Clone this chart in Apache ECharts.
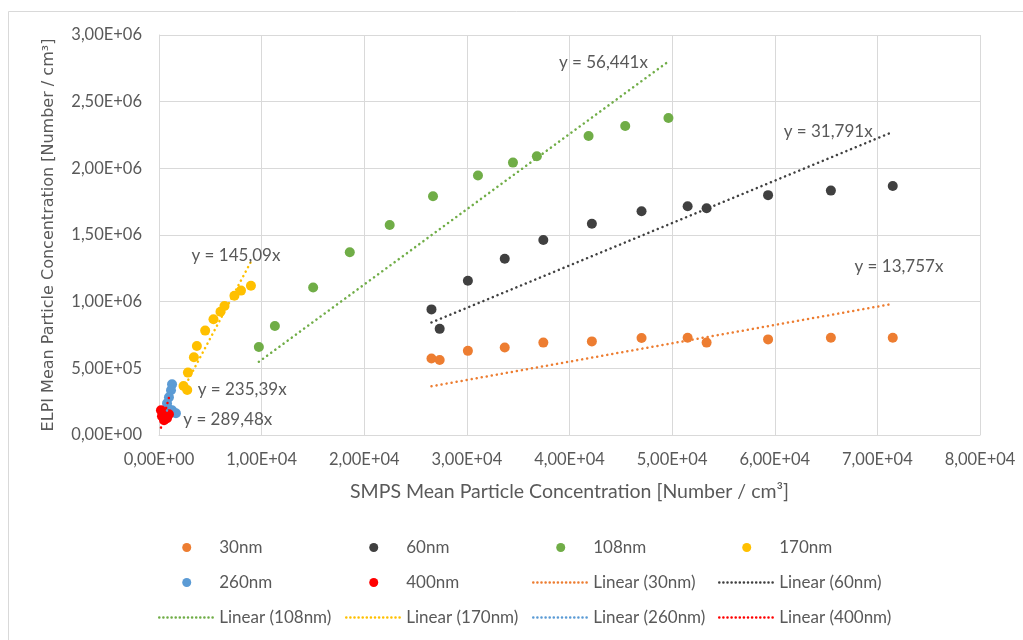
<!DOCTYPE html>
<html>
<head>
<meta charset="utf-8">
<script src="https://cdn.jsdelivr.net/npm/echarts@6/dist/echarts.min.js"></script>
<style>
  html, body { margin: 0; padding: 0; background: #ffffff; }
  #chart { width: 1023px; height: 640px; }
</style>
</head>
<body>
<div id="chart"></div>
<script>
// Particle size classes
const sizes = ['30nm', '60nm', '108nm', '170nm', '260nm', '400nm'];

// SMPS (x) vs ELPI (y) mean concentrations, one pair of arrays per size class
const smps30  = [26550, 27350, 30100, 33690, 37450, 42180, 47020, 51510, 53360, 59350, 65470, 71500];
const elpi30  = [574000, 562000, 631000, 656000, 693000, 702000, 727000, 730000, 693000, 717000, 730000, 730000];

const smps60  = [26550, 27350, 30100, 33690, 37450, 42180, 47020, 51510, 53360, 59350, 65470, 71500];
const elpi60  = [942000, 796000, 1157000, 1322000, 1463000, 1584000, 1678000, 1715000, 1700000, 1799000, 1833000, 1868000];

const smps108 = [9730, 11290, 15020, 18590, 22480, 26700, 31080, 34490, 36820, 41860, 45430, 49640];
const elpi108 = [660000, 818000, 1106000, 1371000, 1575000, 1791000, 1946000, 2043000, 2091000, 2243000, 2318000, 2378000];

const smps170 = [8960, 7990, 7350, 6380, 5990, 5310, 4500, 3690, 3400, 2820, 2390, 2750];
const elpi170 = [1120000, 1083000, 1045000, 968000, 925000, 868000, 783000, 668000, 583000, 468000, 368000, 338000];

const smps260 = [1270, 1170, 970, 780, 880, 1270, 1650];
const elpi260 = [380000, 335000, 283000, 238000, 200000, 185000, 163000];

const smps400 = [190, 290, 490, 780, 970, 390, 600];
const elpi400 = [185000, 140000, 110000, 125000, 155000, 163000, 145000];

// Slopes of the linear trendlines forced through the origin
const slopes = [13.757, 31.791, 56.441, 145.09, 235.39, 289.48];

// Axis ticks
const xTicks = [0, 10000, 20000, 30000, 40000, 50000, 60000, 70000, 80000];
const yTicks = [0, 500000, 1000000, 1500000, 2000000, 2500000, 3000000];

const colors = ['#ED7D31', '#404040', '#70AD47', '#FFC000', '#5B9BD5', '#FF0000'];
const xs = [smps30, smps60, smps108, smps170, smps260, smps400];
const ys = [elpi30, elpi60, elpi108, elpi170, elpi260, elpi400];

// Where each trendline equation sits (data coordinates)
const eqAnchor = [[72100, 1266000], [65200, 2277000], [43300, 2796000],
                  [7500, 1348000], [8100, 342000], [6700, 118000]];

const FONT = 'Lato';
const GREY = '#595959';

function sci(v) {
  if (v === 0) return '0,00E+00';
  const e = Math.floor(Math.log10(Math.abs(v)) + 1e-9);
  const m = (v / Math.pow(10, e)).toFixed(2).replace('.', ',');
  return m + 'E' + (e < 0 ? '-' : '+') + String(Math.abs(e)).padStart(2, '0');
}

const trendName = s => 'Linear (' + s + ')';

const series = [];
sizes.forEach((s, i) => {
  series.push({
    name: s,
    type: 'scatter',
    symbol: 'circle',
    symbolSize: 10,
    clip: false,
    itemStyle: { color: colors[i], opacity: 1 },
    data: xs[i].map((x, k) => [x, ys[i][k]]),
    z: 3
  });
});
sizes.forEach((s, i) => {
  const xmin = Math.min(...xs[i]);
  const xmax = Math.max(...xs[i]);
  series.push({
    name: trendName(s),
    type: 'line',
    symbol: 'none',
    showSymbol: false,
    clip: false,
    silent: true,
    itemStyle: { color: colors[i] },
    lineStyle: { color: colors[i], width: 2.5, type: [0.1, 5], cap: 'round' },
    data: [[xmin, slopes[i] * xmin], [xmax, slopes[i] * xmax]],
    markPoint: {
      symbol: 'circle',
      symbolSize: 0,
      silent: true,
      label: {
        show: true,
        position: 'inside',
        color: GREY,
        fontFamily: FONT,
        fontSize: 17,
        formatter: 'y = ' + String(slopes[i]).replace('.', ',') + 'x'
      },
      data: [{ coord: eqAnchor[i] }]
    },
    z: 4
  });
});

// Legend entries in reading order: six dot entries, then six dotted-line entries
const legendOrder = sizes.concat(sizes.map(trendName));
function legendItem(name) {
  if (name.indexOf('Linear') === 0) {
    return { name: name, itemStyle: { opacity: 0 },
             lineStyle: { width: 2.5, type: [0.1, 4], cap: 'round' } };
  }
  return { name: name };
}
// Four columns, three rows; column k holds entries k, k+4, k+8
const legendCols = [158, 345, 532, 718];
const legends = legendCols.map((left, c) => ({
  data: [0, 1, 2].map(r => legendItem(legendOrder[c + 4 * r])),
  left: left,
  top: 530,
  padding: 0,
  orient: 'vertical',
  itemWidth: 55,
  itemHeight: 9,
  itemGap: 0,
  selectedMode: false,
  textStyle: { color: GREY, fontFamily: FONT, fontSize: 17, lineHeight: 35, height: 35 }
}));

const chart = echarts.init(document.getElementById('chart'), null, { renderer: 'canvas' });
chart.setOption({
  backgroundColor: '#ffffff',
  animation: false,
  graphic: [{
    type: 'rect',
    shape: { x: 8.5, y: 11.5, width: 1200, height: 800 },
    style: { fill: 'none', stroke: '#d9d9d9', lineWidth: 1 },
    silent: true
  }],
  grid: { left: 159, right: 43, top: 35, bottom: 205, containLabel: false },
  xAxis: {
    type: 'value',
    min: xTicks[0],
    max: xTicks[xTicks.length - 1],
    interval: xTicks[1] - xTicks[0],
    name: 'SMPS Mean Particle Concentration [Number / cm³]',
    nameLocation: 'middle',
    nameGap: 47,
    nameTextStyle: { color: GREY, fontFamily: FONT, fontSize: 19.5 },
    axisLine: { show: true, lineStyle: { color: '#d9d9d9', width: 1 } },
    axisTick: { show: false },
    axisLabel: { color: GREY, fontFamily: FONT, fontSize: 16.5, margin: 16, formatter: sci },
    splitLine: { show: true, lineStyle: { color: '#d9d9d9', width: 1 } }
  },
  yAxis: {
    type: 'value',
    min: yTicks[0],
    max: yTicks[yTicks.length - 1],
    interval: yTicks[1] - yTicks[0],
    name: 'ELPI Mean Particle Concentration [Number / cm³]',
    nameLocation: 'middle',
    nameGap: 102,
    nameTextStyle: { color: GREY, fontFamily: 'DejaVu Sans', fontSize: 16 },
    axisLine: { show: true, lineStyle: { color: '#d9d9d9', width: 1 } },
    axisTick: { show: false },
    axisLabel: { color: GREY, fontFamily: FONT, fontSize: 16.5, margin: 17, formatter: sci },
    splitLine: { show: true, lineStyle: { color: '#d9d9d9', width: 1 } }
  },
  legend: legends,
  series: series
});
</script>
</body>
</html>
